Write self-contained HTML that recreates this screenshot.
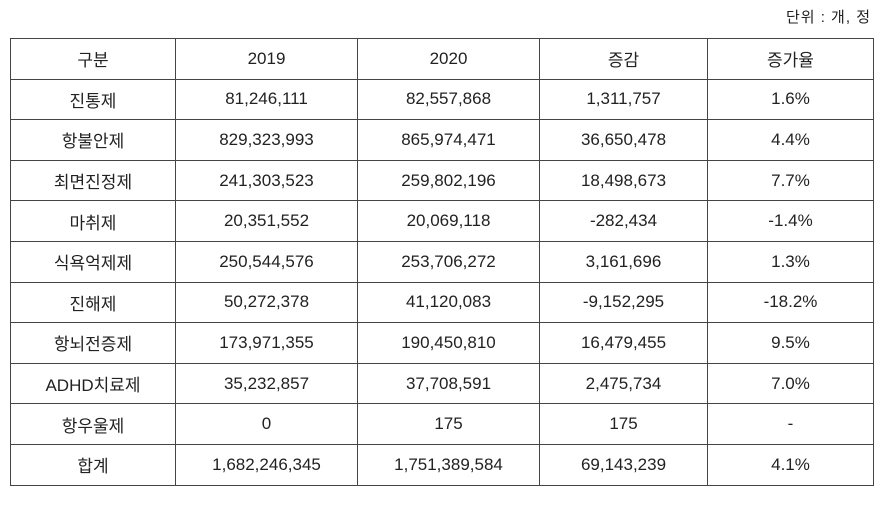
<!DOCTYPE html>
<html><head><meta charset="utf-8"><style>
body{margin:0;width:889px;height:505px;background:#fff;font-family:"Liberation Sans","Noto Sans CJK KR","NanumGothic",sans-serif;color:#222;position:relative;overflow:hidden}
#unit{position:absolute;right:18px;top:6px;font-size:15px;letter-spacing:1px}
table{position:absolute;left:10px;top:38px;border-collapse:collapse;table-layout:fixed}
td{border:1.5px solid #444;height:39.6px;padding:0;text-align:center;font-size:17px}
</style></head><body>
<div id="unit">단위 : 개, 정</div>
<table>
<colgroup><col style="width:165px"><col style="width:182px"><col style="width:182px"><col style="width:168px"><col style="width:166px"></colgroup>
<tr><td>구분</td><td>2019</td><td>2020</td><td>증감</td><td>증가율</td></tr>
<tr><td>진통제</td><td>81,246,111</td><td>82,557,868</td><td>1,311,757</td><td>1.6%</td></tr>
<tr><td>항불안제</td><td>829,323,993</td><td>865,974,471</td><td>36,650,478</td><td>4.4%</td></tr>
<tr><td>최면진정제</td><td>241,303,523</td><td>259,802,196</td><td>18,498,673</td><td>7.7%</td></tr>
<tr><td>마취제</td><td>20,351,552</td><td>20,069,118</td><td>-282,434</td><td>-1.4%</td></tr>
<tr><td>식욕억제제</td><td>250,544,576</td><td>253,706,272</td><td>3,161,696</td><td>1.3%</td></tr>
<tr><td>진해제</td><td>50,272,378</td><td>41,120,083</td><td>-9,152,295</td><td>-18.2%</td></tr>
<tr><td>항뇌전증제</td><td>173,971,355</td><td>190,450,810</td><td>16,479,455</td><td>9.5%</td></tr>
<tr><td>ADHD치료제</td><td>35,232,857</td><td>37,708,591</td><td>2,475,734</td><td>7.0%</td></tr>
<tr><td>항우울제</td><td>0</td><td>175</td><td>175</td><td>-</td></tr>
<tr><td>합계</td><td>1,682,246,345</td><td>1,751,389,584</td><td>69,143,239</td><td>4.1%</td></tr>
</table>
</body></html>
